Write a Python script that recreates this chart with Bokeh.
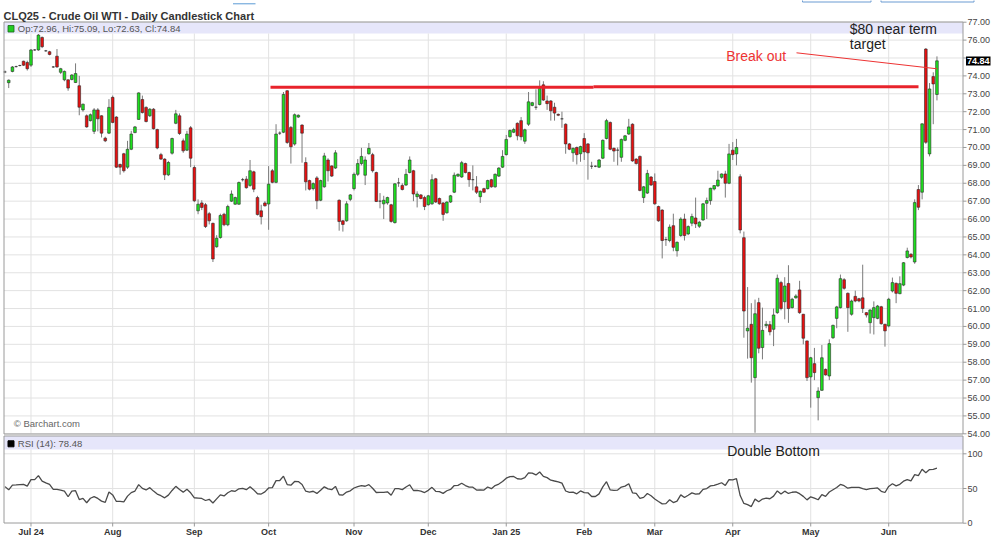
import pandas as pd
from bokeh.plotting import figure
from bokeh.models import Range1d, ColumnDataSource
from bokeh.core.properties import value
from bokeh.embed import file_html
from bokeh.resources import INLINE

# ---------------- data ----------------
start_date = "2024-06-20"
end_date = "2025-06-20"
holidays = ["2024-07-04", "2024-09-02", "2024-11-28", "2024-12-25", "2025-01-01",
            "2025-01-20", "2025-02-17", "2025-04-18", "2025-05-26", "2025-06-19"]
month_labels = ["Jul 24", "Aug", "Sep", "Oct", "Nov", "Dec", "Jan 25",
                "Feb", "Mar", "Apr", "May", "Jun"]
price_ticks = [54, 55, 56, 57, 58, 59, 60, 61, 62, 63, 64, 65, 66, 67, 68, 69,
               70, 71, 72, 73, 74, 75, 76, 77]
rsi_ticks = [0, 50, 100]
rsi_grid = [50, 100]
rsi_period = 14
rsi_label_value = 78.48
resistance_level = [73.36, 73.40]

opens = [
    74.22, 73.62, 74.25, 74.52, 74.58, 74.82, 74.75, 74.6, 75.45, 75.45,
    76.15, 75.4, 75.35, 74.5, 75.1, 74.2, 73.78, 73.78, 73.8, 73.63,
    73.45, 72.1, 71.77, 71.5, 70.9, 72.1, 71.77, 70.52, 70.8, 72.8,
    71.7, 69.05, 69.65, 68.9, 69.9, 70.83, 71.57, 72.68, 72.24, 71.77,
    72.14, 71.0, 69.6, 69.35, 68.47, 69.68, 71.35, 71.77, 70.37, 69.85,
    71.1, 68.88, 66.46, 66.9, 66.8, 66.3, 65.76, 64.45, 64.97, 66.27,
    65.68, 67.0, 66.83, 66.83, 68.2, 68.23, 67.88, 68.64, 67.2, 66.46,
    66.9, 66.84, 68.7, 68.05, 70.8, 70.85, 73.17, 71.12, 70.19, 71.7,
    71.25, 69.16, 68.15, 67.7, 68.3, 67.05, 67.8, 69.3, 68.97, 68.85,
    67.05, 65.9, 65.9, 67.1, 67.7, 68.5, 69.1, 68.45, 69.65, 69.6,
    68.6, 67.0, 66.85, 66.9, 66.8, 65.8, 68.02, 67.88, 67.9, 68.6,
    68.7, 67.25, 67.35, 67.2, 66.8, 66.85, 68.25, 67.15, 66.9, 66.35,
    66.95, 67.5, 68.4, 68.35, 69.1, 68.6, 68.2, 67.8, 67.25, 67.7,
    67.7, 68.2, 67.8, 68.4, 68.9, 69.6, 70.6, 70.85, 71.35, 71.5,
    70.35, 71.3, 72.35, 72.25, 72.4, 73.5, 72.6, 72.6, 72.25, 71.85,
    71.6, 71.3, 70.2, 69.7, 70.0, 69.65, 70.5, 70.2, 68.95, 68.95,
    68.9, 69.4, 70.5, 71.4, 69.95, 69.85, 69.45, 70.4, 70.75, 71.3,
    69.35, 69.5, 67.2, 67.45, 68.35, 68.1, 66.7, 66.5, 64.85, 64.8,
    65.63, 64.23, 65.08, 66.0, 65.17, 65.77, 66.06, 65.6, 65.95, 66.88,
    67.03, 67.68, 67.85, 68.33, 68.52, 68.0, 69.85, 69.64, 68.37, 64.96,
    59.75, 60.12, 57.14, 61.33, 58.82, 60.05, 60.1, 59.84, 60.77, 62.45,
    61.38, 62.4, 61.05, 61.6, 62.04, 60.68, 59.19, 57.18, 57.92, 56.02,
    56.43, 57.6, 57.23, 59.37, 60.45, 61.05, 62.61, 61.85, 60.68, 61.68,
    61.55, 61.6, 60.77, 60.21, 60.49, 60.45, 61.1, 60.12, 60.03, 61.98,
    62.41, 61.83, 62.31, 63.85, 64.03, 63.6, 67.65, 67.5, 75.5, 69.64,
    73.96, 72.96]

highs = [
    74.3, 73.8, 74.55, 74.57, 74.62, 74.85, 74.85, 75.5, 75.5, 76.34,
    76.2, 75.45, 75.4, 74.55, 75.5, 74.45, 74.3, 73.8, 74.1, 74.7,
    74.0, 72.45, 71.85, 71.9, 72.2, 72.2, 71.8, 70.6, 72.7, 72.9,
    71.75, 69.1, 69.7, 70.37, 70.93, 71.2, 73.08, 72.9, 72.3, 72.2,
    72.2, 71.05, 69.7, 69.4, 69.25, 70.55, 72.1, 71.9, 70.5, 70.93,
    71.2, 69.0, 67.1, 67.05, 66.9, 66.4, 65.8, 65.1, 66.3, 66.35,
    66.8, 67.6, 67.25, 68.1, 68.3, 68.4, 69.3, 68.7, 67.3, 66.8,
    67.0, 68.96, 68.8, 71.3, 70.9, 73.1, 73.2, 71.2, 71.9, 71.85,
    71.3, 69.45, 68.2, 68.05, 68.4, 68.2, 69.7, 69.4, 69.0, 69.85,
    67.1, 65.95, 67.0, 67.4, 68.6, 69.35, 69.98, 69.5, 70.25, 69.7,
    68.65, 67.45, 67.3, 67.25, 66.85, 68.0, 68.3, 68.0, 68.8, 69.5,
    68.75, 67.55, 67.4, 67.3, 67.35, 68.5, 68.3, 67.2, 66.95, 67.0,
    67.35, 68.6, 68.55, 69.25, 69.15, 68.65, 69.0, 68.4, 67.6, 67.75,
    68.2, 68.25, 68.55, 68.9, 69.85, 70.7, 71.0, 71.1, 71.4, 71.7,
    71.05, 73.1, 72.55, 73.25, 73.75, 73.7, 72.9, 72.65, 72.5, 71.9,
    72.0, 71.35, 70.25, 70.0, 70.05, 70.1, 70.8, 70.25, 69.2, 69.0,
    69.35, 70.45, 71.6, 71.45, 70.0, 70.0, 70.5, 70.7, 71.6, 71.35,
    69.4, 69.55, 67.85, 68.75, 68.4, 68.55, 66.75, 66.55, 65.0, 65.7,
    66.3, 64.75, 66.1, 66.3, 65.65, 66.3, 67.2, 65.9, 66.9, 67.2,
    67.75, 67.9, 68.7, 68.55, 68.7, 70.2, 70.3, 70.48, 68.5, 65.3,
    62.2, 61.3, 61.5, 61.6, 61.05, 60.3, 60.3, 61.0, 62.9, 62.55,
    62.75, 63.42, 61.6, 61.8, 62.55, 60.7, 59.2, 58.3, 58.8, 56.6,
    58.96, 57.65, 59.28, 60.1, 61.15, 62.9, 62.7, 61.9, 61.5, 62.0,
    61.6, 63.45, 60.8, 60.95, 61.4, 61.2, 61.15, 60.15, 61.6, 62.73,
    62.45, 62.8, 63.6, 64.4, 64.1, 67.1, 67.9, 71.35, 75.55, 73.6,
    74.2, 75.09]

lows = [
    74.15, 73.32, 74.2, 74.47, 74.53, 74.55, 74.3, 74.5, 75.4, 75.4,
    75.55, 75.35, 75.15, 74.45, 74.45, 74.1, 73.7, 73.17, 73.75, 73.6,
    71.8, 72.0, 71.1, 71.45, 70.75, 70.9, 70.56, 70.3, 70.75, 71.35,
    68.85, 68.48, 68.6, 68.8, 69.85, 70.8, 71.55, 71.9, 71.4, 71.7,
    71.0, 69.9, 69.3, 68.18, 68.4, 69.6, 71.3, 70.7, 69.7, 69.8,
    68.9, 66.95, 66.27, 66.5, 65.5, 65.7, 63.6, 64.4, 64.9, 65.6,
    65.6, 66.95, 66.8, 66.8, 68.1, 67.7, 67.8, 67.5, 66.2, 65.7,
    66.7, 65.4, 68.0, 68.0, 70.7, 70.8, 70.2, 69.1, 70.1, 71.65,
    69.15, 67.6, 67.6, 67.6, 66.55, 67.0, 67.75, 68.1, 68.35, 68.8,
    65.35, 65.3, 65.85, 67.0, 67.6, 68.4, 69.0, 67.9, 69.6, 68.6,
    66.95, 66.6, 66.0, 66.8, 65.8, 65.75, 67.8, 67.6, 67.85, 68.55,
    67.0, 66.65, 67.1, 66.5, 66.75, 66.8, 66.9, 66.8, 65.9, 66.3,
    66.9, 67.45, 68.35, 68.3, 68.55, 67.8, 67.6, 67.4, 66.9, 67.45,
    67.65, 67.75, 67.75, 68.35, 68.85, 69.55, 70.55, 70.8, 70.4, 70.4,
    70.2, 71.2, 72.3, 72.1, 72.35, 72.6, 72.1, 71.5, 71.5, 71.75,
    71.1, 69.65, 69.85, 69.2, 69.05, 69.2, 69.3, 68.2, 68.8, 68.9,
    68.85, 69.35, 70.45, 69.85, 69.2, 69.0, 69.2, 70.35, 70.7, 69.2,
    69.05, 67.55, 66.9, 67.4, 67.85, 66.8, 65.85, 63.8, 64.5, 64.7,
    64.2, 63.9, 65.0, 64.8, 65.1, 65.6, 65.5, 65.5, 65.9, 66.0,
    66.8, 67.6, 67.8, 68.25, 67.2, 67.95, 69.3, 69.0, 65.2, 59.37,
    58.2, 56.86, 54.06, 58.5, 58.16, 59.9, 59.5, 58.9, 60.7, 60.9,
    60.4, 60.2, 61.0, 61.55, 60.7, 59.0, 56.95, 55.46, 57.0, 54.75,
    56.4, 57.25, 57.0, 59.3, 59.9, 61.0, 62.05, 59.7, 60.6, 61.35,
    61.35, 60.75, 60.5, 59.6, 59.55, 60.4, 60.1, 58.87, 59.95, 61.9,
    61.3, 61.8, 62.25, 63.8, 63.8, 63.5, 66.5, 67.1, 70.2, 69.5,
    71.3, 72.63]

closes = [
    74.22, 73.76, 74.5, 74.52, 74.58, 74.6, 74.4, 75.45, 75.45, 76.28,
    75.63, 75.4, 75.2, 74.5, 74.5, 74.4, 74.25, 73.32, 74.05, 74.13,
    72.25, 72.42, 71.15, 71.83, 72.1, 71.6, 70.8, 70.37, 72.24, 71.4,
    68.9, 68.9, 68.7, 69.9, 70.75, 71.15, 73.05, 71.95, 71.45, 72.14,
    71.05, 69.97, 69.35, 68.47, 69.16, 70.5, 71.88, 70.78, 69.81, 70.75,
    69.4, 67.02, 66.83, 66.65, 65.58, 65.9, 63.77, 64.93, 66.2, 65.68,
    66.7, 67.4, 67.2, 68.04, 68.2, 67.75, 68.7, 67.67, 66.25, 66.13,
    66.74, 67.95, 68.05, 70.75, 70.8, 72.96, 70.28, 70.04, 71.83, 71.8,
    70.8, 68.08, 67.67, 67.98, 67.02, 68.15, 69.53, 68.7, 68.4, 69.7,
    65.86, 65.7, 66.85, 67.35, 68.5, 69.1, 69.5, 69.3, 69.95, 68.7,
    66.98, 67.0, 67.05, 67.2, 65.87, 67.97, 68.02, 67.65, 68.5, 69.3,
    67.4, 67.4, 67.15, 66.7, 67.3, 68.2, 66.95, 66.85, 66.26, 66.95,
    67.3, 68.45, 68.5, 69.15, 68.6, 68.2, 68.2, 67.5, 67.55, 67.5,
    68.15, 67.8, 68.5, 68.85, 69.5, 70.45, 70.95, 71.0, 70.65, 70.6,
    70.99, 72.55, 72.5, 72.25, 73.3, 72.65, 72.45, 72.05, 71.92, 71.8,
    71.6, 70.2, 69.9, 69.95, 69.6, 70.05, 69.75, 69.7, 68.95, 68.95,
    69.3, 70.4, 71.5, 69.9, 69.8, 69.85, 70.45, 70.65, 71.15, 69.25,
    69.1, 67.6, 67.8, 68.55, 67.9, 66.85, 65.9, 64.8, 64.85, 65.55,
    64.42, 64.7, 66.0, 65.08, 65.58, 66.14, 65.73, 65.82, 66.85, 67.03,
    67.72, 67.87, 68.18, 68.52, 68.0, 69.64, 69.6, 70.0, 65.39, 60.86,
    59.9, 58.25, 60.71, 58.78, 59.78, 60.12, 59.7, 60.64, 62.69, 61.0,
    62.26, 61.0, 61.52, 61.7, 60.77, 59.34, 57.14, 58.25, 57.42, 56.39,
    58.25, 57.29, 59.04, 60.06, 61.09, 62.67, 62.13, 61.05, 61.42, 61.42,
    61.42, 61.0, 60.64, 60.92, 61.05, 61.14, 60.15, 59.75, 61.52, 62.45,
    61.85, 62.39, 63.56, 64.22, 63.88, 66.92, 66.66, 71.32, 70.29, 73.27,
    73.55, 74.84]

# ---------------- derived ----------------
n = len(closes)
idx = list(range(n))
dates = pd.bdate_range(start_date, end_date, freq="C", holidays=holidays)
if len(dates) != n:
    dates = pd.bdate_range(end=end_date, periods=n, freq="C", holidays=holidays)
pos = pd.Series(range(len(dates)), index=dates)
firsts = pos.groupby(dates.to_period("M")).first()
month_ticks = [int(v) for v in firsts.values[1:1 + len(month_labels)]]

GREEN, RED = "#1EE01E", "#E81010"
body_top = [max(o, c) for o, c in zip(opens, closes)]
body_bot = [min(o, c) for o, c in zip(opens, closes)]
fills = [GREEN if c > o else (RED if c < o else "#000000") for o, c in zip(opens, closes)]
src = ColumnDataSource(dict(x=idx, h=highs, l=lows, top=body_top, bot=body_bot, fill=fills))

# Wilder RSI(14), seeded with the average gain/loss of the first 14 changes
diffs = [closes[i] - closes[i - 1] for i in range(1, n)]
avg_g = sum(max(v, 0) for v in diffs[:rsi_period]) / rsi_period
avg_l = sum(max(-v, 0) for v in diffs[:rsi_period]) / rsi_period
rsi = [100 - 100 / (1 + avg_g / avg_l)]
for v in diffs:
    avg_g = (avg_g * (rsi_period - 1) + max(v, 0)) / rsi_period
    avg_l = (avg_l * (rsi_period - 1) + max(-v, 0)) / rsi_period
    rsi.append(100 - 100 / (1 + avg_g / avg_l))

# ---------------- page geometry (pixel -> data helpers) ----------------
W, H = 1000, 540
PX_PER_BAR, BAR0_PX = 3.713, 4.5          # horizontal spacing of daily bars
PX_PER_USD, Y77_PX = 17.896, 21.7          # price scale
PX_PER_RSI, RSI0_PX = 0.694, 522.7         # RSI scale


def ix(px):
    return (px - BAR0_PX) / PX_PER_BAR


def py(y):
    return 77 - (y - Y77_PX) / PX_PER_USD


def ry(y):
    return (RSI0_PX - y) / PX_PER_RSI


FONT = "Liberation Sans"
GRID = "#e2e2e2"
FRAME = "#9a9a9a"
LAV = "#E6E6FA"
L, R = ix(3.5), ix(962.5)

p = figure(width=W, height=H, x_range=Range1d(ix(0), ix(W)), y_range=Range1d(py(H), py(0)),
           x_axis_location=None, y_axis_location=None, toolbar_location=None,
           output_backend="svg", min_border=0, outline_line_color=None,
           background_fill_color="white", border_fill_color="white")
p.extra_y_ranges = {"rsi": Range1d(ry(H), ry(0))}
p.grid.visible = False

# panel bands
p.quad(left=[L], right=[R], top=[py(21.5)], bottom=[py(33)], fill_color=LAV, line_color=None)
p.quad(left=[L], right=[R], top=[ry(435.5)], bottom=[ry(449)], fill_color=LAV,
       line_color=None, y_range_name="rsi")

# grid lines
p.segment(x0=[L] * len(price_ticks), y0=price_ticks, x1=[R] * len(price_ticks), y1=price_ticks,
          line_color=GRID, line_width=1)
p.segment(x0=[L] * len(rsi_grid), y0=rsi_grid, x1=[R] * len(rsi_grid), y1=rsi_grid,
          line_color=GRID, line_width=1, y_range_name="rsi")
p.segment(x0=month_ticks, y0=[py(33)] * len(month_ticks), x1=month_ticks,
          y1=[py(433.5)] * len(month_ticks), line_color=GRID, line_width=1)
p.segment(x0=month_ticks, y0=[ry(449)] * len(month_ticks), x1=month_ticks,
          y1=[ry(522.5)] * len(month_ticks), line_color=GRID, line_width=1, y_range_name="rsi")

# candles
p.segment(x0="x", y0="l", x1="x", y1="h", source=src, line_color="#7a7a7a", line_width=1)
p.vbar(x="x", width=0.72, top="top", bottom="bot", source=src, fill_color="fill",
       line_color="#2a2a2a", line_width=0.6)

# panel frames
p.quad(left=[L], right=[R], top=[py(21.5)], bottom=[py(433.5)], fill_alpha=0,
       line_color=FRAME, line_width=1)
p.quad(left=[L], right=[R], top=[ry(435.5)], bottom=[ry(522.5)], fill_alpha=0,
       line_color=FRAME, line_width=1, y_range_name="rsi")

# right-hand ticks and labels (price)
price_shown = [t for t in price_ticks if abs(t - closes[-1]) >= 0.5]
p.segment(x0=[R] * len(price_ticks), y0=price_ticks, x1=[ix(966)] * len(price_ticks),
          y1=price_ticks, line_color=FRAME, line_width=1)
p.text(x=[ix(967)] * len(price_shown), y=price_shown, text=["%.2f" % t for t in price_shown],
       text_font=value(FONT), text_font_size=value("9px"), text_color="#444444",
       text_baseline="middle", text_align="left")
# last price box
p.quad(left=[ix(965.5)], right=[ix(990)], top=[py(56)], bottom=[py(65)],
       fill_color="black", line_color=None)
p.text(x=[ix(977.8)], y=[closes[-1]], text=["%.2f" % closes[-1]], text_font=value(FONT),
       text_font_size=value("9px"), text_font_style="bold", text_color="white",
       text_baseline="middle", text_align="center")

# right-hand ticks and labels (RSI)
p.segment(x0=[R] * len(rsi_ticks), y0=rsi_ticks, x1=[ix(966)] * len(rsi_ticks), y1=rsi_ticks,
          line_color=FRAME, line_width=1, y_range_name="rsi")
p.text(x=[ix(967)] * len(rsi_ticks), y=rsi_ticks, text=[str(t) for t in rsi_ticks],
       text_font=value(FONT), text_font_size=value("9px"), text_color="#444444",
       text_baseline="middle", text_align="left", y_range_name="rsi")

# month axis
p.segment(x0=month_ticks, y0=[ry(522.5)] * len(month_ticks), x1=month_ticks,
          y1=[ry(526)] * len(month_ticks), line_color=FRAME, line_width=1, y_range_name="rsi")
p.text(x=month_ticks, y=[ry(531)] * len(month_ticks), text=month_labels,
       text_font=value(FONT), text_font_size=value("9px"), text_font_style="bold",
       text_color="#333333", text_baseline="middle", text_align="center", y_range_name="rsi")

# RSI line
p.line(x=idx, y=rsi, line_color="#4a4a4a", line_width=1.3, y_range_name="rsi")

# resistance line and break-out pointer
p.line(x=[ix(270), ix(593)], y=[resistance_level[0]] * 2, line_color="#E8232B", line_width=3)
p.line(x=[ix(593), ix(918)], y=[resistance_level[1]] * 2, line_color="#E8232B", line_width=3)
p.line(x=[ix(796), ix(936.7)], y=[py(52.3), py(68.3)], line_color="#EE3333", line_width=1)

# title and page furniture
p.text(x=[ix(3)], y=[py(15.3)], text=["CLQ25 - Crude Oil WTI - Daily Candlestick Chart"],
       text_font=value(FONT), text_font_size=value("11px"), text_font_style="bold",
       text_color="#333333", text_baseline="alphabetic", text_align="left")
p.line(x=[ix(232.5), ix(255)], y=[py(3.3), py(3.3)], line_color="#5B9BD5", line_width=1)
p.quad(left=[ix(802), ix(880.5)], right=[ix(870.5), ix(973.5)], top=[py(-8)] * 2,
       bottom=[py(1.5)] * 2, fill_alpha=0, line_color="#6B9BD2", line_width=1)

# legends
p.quad(left=[ix(7.5)], right=[ix(13.5)], top=[py(25)], bottom=[py(31.5)],
       fill_color="#22CC22", line_color="#1A661A", line_width=0.8)
p.text(x=[ix(17.3)], y=[py(28.3)], text=["Op:%.2f, Hi:%.2f, Lo:%.2f, Cl:%.2f" % (
    opens[-1], highs[-1], lows[-1], closes[-1])], text_font=value(FONT),
    text_font_size=value("9.5px"), text_color="#555555", text_baseline="middle")
p.quad(left=[ix(7.5)], right=[ix(13.5)], top=[ry(440.3)], bottom=[ry(446.3)],
       fill_color="black", line_color="black", y_range_name="rsi")
p.text(x=[ix(17.3)], y=[ry(443.3)], text=["RSI (14): %.2f" % rsi_label_value],
       text_font=value(FONT), text_font_size=value("9.5px"), text_color="#555555",
       text_baseline="middle", y_range_name="rsi")
p.text(x=[ix(13.3)], y=[py(423)], text=["\u00a9 Barchart.com"], text_font=value(FONT),
       text_font_size=value("9.5px"), text_color="#666666", text_baseline="middle")

# annotations
p.text(x=[ix(725.7)], y=[py(55)], text=["Break out"], text_font=value(FONT),
       text_font_size=value("14px"), text_color="#EE3333", text_baseline="middle")
p.text(x=[ix(849.3), ix(849.3)], y=[py(28.6), py(43.8)], text=["$80 near term", "target"],
       text_font=value(FONT), text_font_size=value("14px"), text_color="#222222",
       text_baseline="alphabetic")
p.text(x=[ix(726.7)], y=[ry(450.3)], text=["Double Bottom"], text_font=value(FONT),
       text_font_size=value("14px"), text_color="#222222", text_baseline="middle",
       y_range_name="rsi")

open("out.html", "w").write(file_html(p, INLINE))
